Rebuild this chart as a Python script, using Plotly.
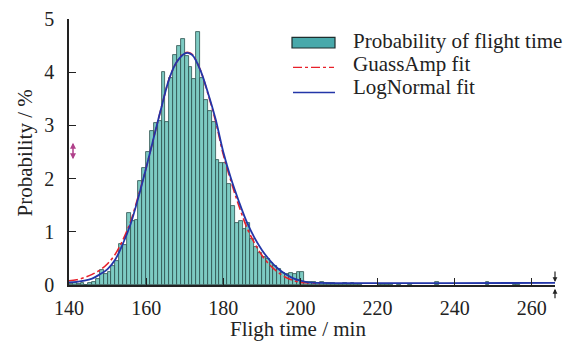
import plotly.graph_objects as go

# Histogram: bin start (minutes) and probability (%)
bin_start = list(range(140, 216)) + [220, 221, 222, 223, 225, 228, 235, 248, 255, 256]
prob = [0.02, 0.03, 0.02, 0.03, 0.0, 0.03, 0.05, 0.12, 0.28, 0.2,
        0.25, 0.35, 0.45, 0.78, 0.76, 1.35, 1.2, 1.22, 1.95, 2.2,
        2.5, 2.9, 3.05, 3.08, 4.0, 3.07, 3.9, 4.33, 4.5, 4.62,
        4.3, 4.1, 3.88, 4.75, 3.9, 3.47, 3.28, 3.07, 2.35, 2.3,
        2.29, 1.9, 1.48, 1.17, 1.2, 1.05, 1.16, 0.87, 0.72, 0.6,
        0.52, 0.48, 0.42, 0.36, 0.3, 0.22, 0.2, 0.23, 0.2, 0.25,
        0.24, 0.06, 0.05, 0.05, 0.04, 0.05, 0.03, 0.04, 0.03, 0.02,
        0.02, 0.03, 0.02, 0.03, 0.02, 0.02,
        0.02, 0.02, 0.02, 0.02, 0.02, 0.02, 0.05, 0.05, 0.02, 0.02]
bin_width = 1.0

# Fit curves
logn_x = [140, 142, 144, 146, 148, 150, 152, 154, 156, 158, 160, 162, 164, 166, 168,
          170, 171, 172, 174, 176, 178, 180, 182, 184, 186, 188, 190, 192, 194, 196,
          198, 200, 202, 205, 266]
logn_y = [0.05, 0.06, 0.08, 0.12, 0.2, 0.3, 0.48, 0.78, 1.15, 1.65, 2.2, 2.78, 3.35, 3.88, 4.2,
          4.35, 4.36, 4.32, 4.05, 3.62, 3.12, 2.5, 2.0, 1.58, 1.2, 0.9, 0.66, 0.47, 0.32, 0.21,
          0.13, 0.08, 0.05, 0.04, 0.04]
gauss_x = [140, 142, 144, 146, 148, 150, 152, 154, 156, 158, 160, 162, 164, 166, 168,
           170, 171, 172, 174, 176, 178, 180, 182, 184, 186, 188, 190, 192, 194, 196,
           198, 200, 202, 205]
gauss_y = [0.08, 0.1, 0.14, 0.2, 0.28, 0.4, 0.58, 0.85, 1.2, 1.68, 2.2, 2.78, 3.35, 3.88, 4.2,
           4.36, 4.37, 4.33, 4.05, 3.6, 3.08, 2.45, 1.95, 1.5, 1.1, 0.8, 0.56, 0.38, 0.25, 0.15,
           0.09, 0.05, 0.04, 0.03]

x_ticks = [140, 160, 180, 200, 220, 240, 260]
y_ticks = [0, 1, 2, 3, 4, 5]
legend_labels = ["Probability of flight time", "GuassAmp fit", "LogNormal fit"]

FONT = "Liberation Serif"
TXT = "#222222"
BAR_FILL = "#7dcbc3"
BAR_EDGE = "#2c4f4c"
RED = "#e8202a"
BLUE = "#2336a8"

fig = go.Figure()
fig.add_trace(go.Bar(
    x=[b + bin_width / 2 for b in bin_start], y=prob, width=bin_width,
    marker=dict(color=BAR_FILL, line=dict(color=BAR_EDGE, width=0.8)),
    name=legend_labels[0], showlegend=False))
fig.add_trace(go.Scatter(
    x=gauss_x, y=gauss_y, mode="lines", line_shape="spline",
    line=dict(color=RED, width=1.6, dash="dashdot"), name=legend_labels[1], showlegend=False))
fig.add_trace(go.Scatter(
    x=logn_x, y=logn_y, mode="lines", line_shape="spline",
    line=dict(color=BLUE, width=1.8), name=legend_labels[2], showlegend=False))

# plot area: x pixels 69..555, y pixels 10..285
L, R, T, B = 69, 555, 10, 285
W, H = R - L, B - T
def px(xp):
    return (xp - L) / W
def py(yp):
    return (B - yp) / H

fig.update_layout(
    width=563, height=344,
    margin=dict(l=L, r=563 - R, t=T, b=344 - B),
    paper_bgcolor="white", plot_bgcolor="white",
    font=dict(family=FONT, size=20, color=TXT),
    bargap=0, showlegend=False,
    xaxis=dict(range=[140, 266], tickvals=x_ticks, ticks="inside", ticklen=7,
               tickcolor=TXT, showline=True, linecolor=TXT, linewidth=1.5,
               showgrid=False, zeroline=False, ticklabelstandoff=4,
               ticklabeloverflow="allow", tickfont=dict(size=20)),
    yaxis=dict(range=[0, 5], tickvals=y_ticks, ticks="inside", ticklen=7,
               tickcolor=TXT, showline=True, linecolor=TXT, linewidth=1.5,
               showgrid=False, zeroline=False, ticklabelstandoff=9,
               ticklabeloverflow="allow", tickfont=dict(size=20)),
)

# axis titles
fig.add_annotation(text="Fligh time / min", xref="paper", yref="paper",
                   x=px(298), y=py(331), xanchor="center", yanchor="middle",
                   showarrow=False, font=dict(size=21, family=FONT, color=TXT))
fig.add_annotation(text="Probability / %", xref="paper", yref="paper",
                   x=px(25), y=py(149), xanchor="center", yanchor="middle", textangle=-90,
                   showarrow=False, font=dict(size=21, family=FONT, color=TXT))

# legend drawn by hand
fig.add_shape(type="rect", xref="paper", yref="paper",
              x0=px(292), x1=px(335), y0=py(40), y1=py(29),
              fillcolor="#48a9ab", line=dict(color="#1e2e2e", width=1.2))
fig.add_shape(type="line", xref="paper", yref="paper",
              x0=px(293), x1=px(334), y0=py(60), y1=py(60),
              line=dict(color=RED, width=1.4, dash="dashdot"))
fig.add_shape(type="line", xref="paper", yref="paper",
              x0=px(293), x1=px(335), y0=py(86), y1=py(86),
              line=dict(color=BLUE, width=1.4))
for lab, yc in zip(legend_labels, [33, 57, 80]):
    fig.add_annotation(text=lab, xref="paper", yref="paper", x=px(351), y=py(yc),
                       xanchor="left", yanchor="middle", showarrow=False,
                       font=dict(size=21, family=FONT, color=TXT))

# small axis-break style arrow markers
fig.add_annotation(x=px(555), y=py(282), xref="paper", yref="paper", ax=0, ay=-12, text="",
                   showarrow=True, arrowhead=2, arrowsize=0.8, arrowwidth=1.2, arrowcolor=TXT)
fig.add_annotation(x=px(555), y=py(289), xref="paper", yref="paper", ax=0, ay=11, text="",
                   showarrow=True, arrowhead=2, arrowsize=0.8, arrowwidth=1.2, arrowcolor=TXT)
fig.add_annotation(x=px(73), y=py(138), xref="paper", yref="paper", ax=0, ay=18, text="",
                   showarrow=True, arrowhead=2, arrowside="end+start", arrowsize=0.8,
                   arrowwidth=1.5, arrowcolor="#b0408a")

fig.write_html("out.html")
